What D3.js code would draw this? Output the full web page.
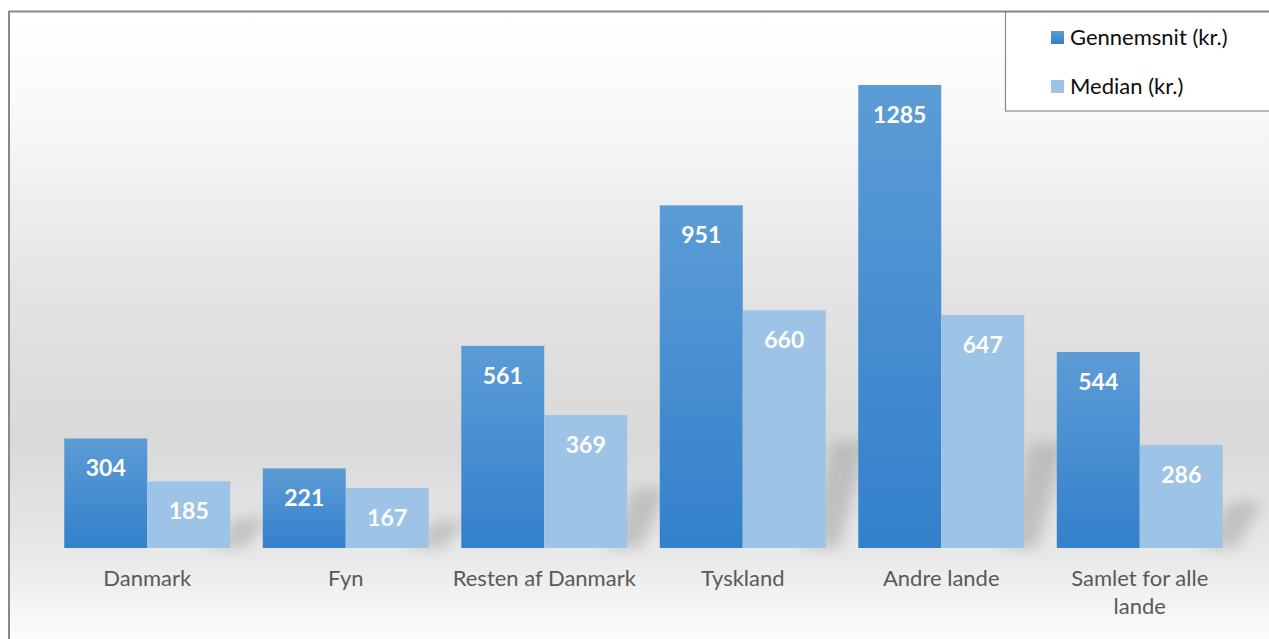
<!DOCTYPE html>
<html lang="da">
<head>
<meta charset="UTF-8">
<title>Gennemsnit og median</title>
<script src="https://cdn.jsdelivr.net/npm/d3@7"></script>
<style>
    body{ margin:0; background:#fff; }
    svg{ display:block; }
    .cat{ font-family: Lato, "Open Sans", sans-serif; font-size:22px; fill:#595959; }
    .val{ font-family: Lato, "Open Sans", sans-serif; font-size:23px; font-weight:bold; fill:#fff; }
    .leg{ font-family: Lato, "Open Sans", sans-serif; font-size:22px; fill:#0d0d0d; }
</style>
</head>
<body>
<script>
const width = 1269
const height = 639

const categories = ["Danmark", "Fyn", "Resten af Danmark", "Tyskland", "Andre lande", "Samlet for alle lande"]
const gennemsnit = [304, 221, 561, 951, 1285, 544]
const median = [185, 167, 369, 660, 647, 286]
const seriesNames = ["Gennemsnit (kr.)", "Median (kr.)"]

// category labels that wrap in the original
const catLines = {"Samlet for alle lande": ["Samlet for alle", "lande"]}

const svg = d3.select("body").append("svg")
    .attr("width", width).attr("height", height)

const defs = svg.append("defs")

const bg = defs.append("linearGradient").attr("id", "bg")
    .attr("x1", 0).attr("y1", 0).attr("x2", 0).attr("y2", 1)
bg.selectAll("stop").data([
    [0, "#ffffff"], [0.14, "#fafafa"], [0.46, "#e2e2e2"],
    [0.67, "#d9d9d9"], [0.855, "#e9e9e9"], [1, "#ffffff"]
]).enter().append("stop")
    .attr("offset", d => d[0]).attr("stop-color", d => d[1])

const darkGrad = defs.append("linearGradient").attr("id", "darkBar")
    .attr("x1", 0).attr("y1", 0).attr("x2", 0).attr("y2", 1)
darkGrad.append("stop").attr("offset", 0).attr("stop-color", "#5c9cd6")
darkGrad.append("stop").attr("offset", 1).attr("stop-color", "#3380cb")

defs.append("filter").attr("id", "blur")
    .attr("x", "-50%").attr("y", "-50%").attr("width", "200%").attr("height", "200%")
    .append("feGaussianBlur").attr("stdDeviation", 7)

// frame + background
svg.append("rect")
    .attr("x", 9).attr("y", 12).attr("width", width).attr("height", height)
    .attr("fill", "url(#bg)")
svg.append("line").attr("x1", 9).attr("x2", width).attr("y1", 11.5).attr("y2", 11.5)
    .attr("stroke", "#888").attr("stroke-width", 2)
svg.append("line").attr("x1", 9).attr("x2", 9).attr("y1", 11).attr("y2", height)
    .attr("stroke", "#888").attr("stroke-width", 2)

const baseY = 548
const topY = 85

const x0 = d3.scaleBand().domain(categories).range([48, 1239]).paddingInner(0.164).paddingOuter(0.082)
const x1 = d3.scaleBand().domain([0, 1]).range([0, x0.bandwidth()])
const y = d3.scaleLinear().domain([0, 1285]).range([baseY, topY])

const rows = categories.map((c, i) => ({cat: c, vals: [gennemsnit[i], median[i]]}))

// soft perspective shadows behind each group
const gShadow = svg.append("g").attr("filter", "url(#blur)").attr("opacity", 0.38)
rows.forEach(r => {
    const right = x0(r.cat) + x0.bandwidth()
    const h = (baseY - y(r.vals[1])) * 0.45
    gShadow.append("path")
        .attr("d", `M${right - 20},${baseY} L${right + 14},${baseY} L${right + 40},${baseY - h} L${right + 6},${baseY - h} Z`)
        .attr("fill", "#8a8a8a")
})

const groups = svg.selectAll(".grp").data(rows).enter().append("g")
    .attr("transform", d => `translate(${x0(d.cat)},0)`)

groups.selectAll("rect").data(d => d.vals).enter().append("rect")
    .attr("x", (d, i) => x1(i))
    .attr("width", x1.bandwidth())
    .attr("y", d => y(d))
    .attr("height", d => baseY - y(d))
    .attr("fill", (d, i) => i === 0 ? "url(#darkBar)" : "#9dc3e6")

groups.selectAll(".val").data(d => d.vals).enter().append("text")
    .attr("class", "val")
    .attr("x", (d, i) => x1(i) + x1.bandwidth() / 2)
    .attr("y", d => y(d) + 38)
    .attr("text-anchor", "middle")
    .text(d => d)

// category labels
svg.selectAll(".cat").data(categories).enter().append("text")
    .attr("class", "cat")
    .attr("text-anchor", "middle")
    .attr("x", d => x0(d) + x0.bandwidth() / 2)
    .attr("y", 586)
    .each(function(d) {
        const lines = catLines[d] || [d]
        const t = d3.select(this)
        lines.forEach((l, i) => {
            t.append("tspan").attr("x", x0(d) + x0.bandwidth() / 2)
                .attr("dy", i === 0 ? 0 : 28).text(l)
        })
    })

// legend
const leg = svg.append("g")
leg.append("rect").attr("x", 1005.5).attr("y", 12).attr("width", 270).attr("height", 99)
    .attr("fill", "#fff").attr("stroke", "#888").attr("stroke-width", 1.2)
const legItems = leg.selectAll(".li").data(seriesNames).enter().append("g")
    .attr("transform", (d, i) => `translate(1051,${31 + i * 49})`)
legItems.append("rect").attr("width", 13).attr("height", 13)
    .attr("fill", (d, i) => i === 0 ? "url(#darkBar)" : "#9dc3e6")
legItems.append("text").attr("class", "leg").attr("x", 19).attr("y", 14).text(d => d)
</script>
</body>
</html>
